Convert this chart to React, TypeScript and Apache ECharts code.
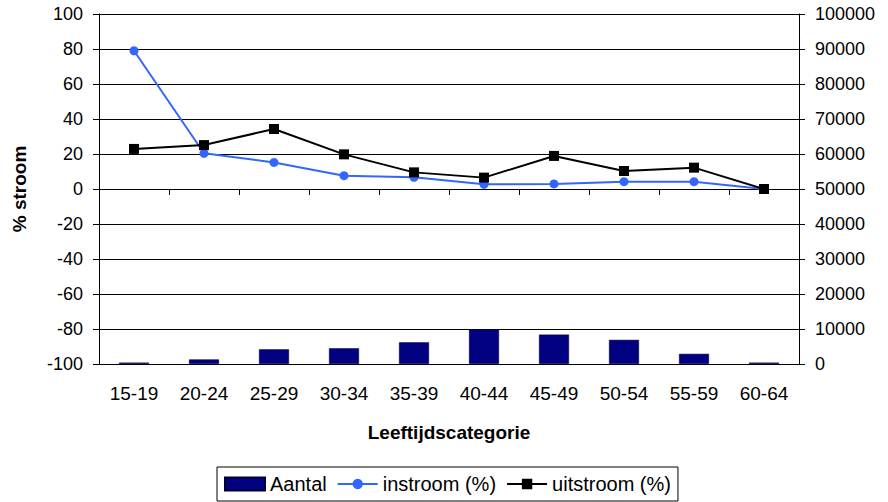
import React, { useEffect, useRef } from "react";
import * as echarts from "echarts";

const categories = ["15-19", "20-24", "25-29", "30-34", "35-39", "40-44", "45-49", "50-54", "55-59", "60-64"];
const aantal = [400, 1300, 4200, 4500, 6200, 9900, 8400, 6900, 2900, 400];
const instroom = [79, 20.4, 15.2, 7.6, 6.7, 2.7, 2.9, 4.2, 4.2, 0];
const uitstroom = [22.9, 25.1, 34.3, 19.8, 9.5, 6.5, 18.9, 10.3, 12.2, 0];

const FONT = "'Liberation Sans', Arial, sans-serif";

export default function App() {
  const ref = useRef<HTMLDivElement>(null);
  useEffect(() => {
    if (!ref.current) return;
    const chart = echarts.init(ref.current, null, { renderer: "svg" });
    chart.setOption({
      animation: false,
      backgroundColor: "#ffffff",
      textStyle: { fontFamily: FONT, color: "#000" },
      grid: { left: 99, right: 89, top: 14, bottom: 138, containLabel: false },
      legend: {
        left: 217,
        top: 467,
        padding: [7, 7],
        borderColor: "#000",
        borderWidth: 1,
        itemWidth: 40,
        itemHeight: 13,
        itemGap: 10,
        textStyle: { fontFamily: FONT, fontSize: 20, color: "#000" },
        data: [
          { name: "Aantal", icon: "rect" },
          { name: "instroom (%)" },
          { name: "uitstroom (%)" },
        ],
      },
      xAxis: {
        type: "category",
        data: categories,
        boundaryGap: true,
        name: "Leeftijdscategorie",
        nameLocation: "middle",
        nameGap: 59,
        nameTextStyle: { fontFamily: FONT, fontSize: 19, fontWeight: "bold", color: "#000" },
        axisLine: { lineStyle: { color: "#000", width: 1 } },
        axisTick: { show: true, length: 6, lineStyle: { color: "#000" }, alignWithLabel: false },
        axisLabel: { fontFamily: FONT, fontSize: 19, color: "#000", margin: 20 },
      },
      yAxis: [
        {
          type: "value",
          min: -100,
          max: 100,
          interval: 20,
          position: "left",
          name: "% stroom",
          nameLocation: "middle",
          nameRotate: 90,
          nameGap: 70,
          nameTextStyle: { fontFamily: FONT, fontSize: 19, fontWeight: "bold", color: "#000" },
          axisLine: { show: true, lineStyle: { color: "#000", width: 1 } },
          axisTick: { show: true, length: 6, lineStyle: { color: "#000" } },
          axisLabel: { fontFamily: FONT, fontSize: 18, color: "#000", margin: 16 },
          splitLine: { show: true, lineStyle: { color: "#000", width: 1 } },
        },
        {
          type: "value",
          min: 0,
          max: 100000,
          interval: 10000,
          position: "right",
          axisLine: { show: true, lineStyle: { color: "#000", width: 1 } },
          axisTick: { show: true, length: 6, lineStyle: { color: "#000" } },
          axisLabel: {
            fontFamily: FONT,
            fontSize: 18,
            color: "#000",
            margin: 16,
            formatter: (v: number) => String(v),
          },
          splitLine: { show: false },
        },
      ],
      series: [
        {
          name: "Aantal",
          type: "bar",
          yAxisIndex: 1,
          data: aantal,
          barWidth: 30,
          itemStyle: { color: "#000080", borderColor: "#000033", borderWidth: 0.5 },
        },
        {
          name: "instroom (%)",
          type: "line",
          yAxisIndex: 0,
          data: instroom,
          symbol: "circle",
          symbolSize: 9,
          lineStyle: { color: "#3366FF", width: 2 },
          itemStyle: { color: "#3366FF" },
        },
        {
          name: "uitstroom (%)",
          type: "line",
          yAxisIndex: 0,
          data: uitstroom,
          symbol: "rect",
          symbolSize: 10,
          lineStyle: { color: "#000000", width: 2 },
          itemStyle: { color: "#000000" },
        },
      ],
    });
    return () => chart.dispose();
  }, []);
  return <div ref={ref} style={{ width: 888, height: 502, position: "absolute", left: 0, top: 0 }} />;
}
